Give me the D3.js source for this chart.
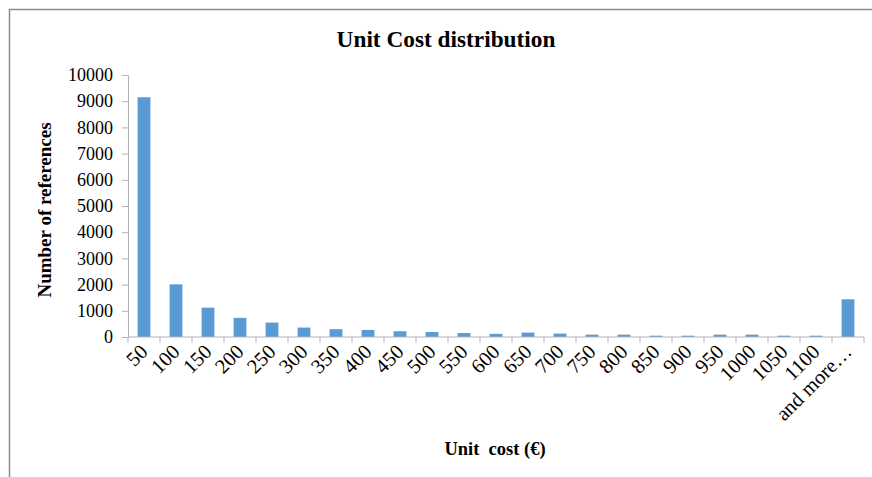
<!DOCTYPE html>
<html lang="en">
<head>
    <meta charset="UTF-8">
    <title>Unit Cost distribution</title>
    <style>
        body { margin: 0; background-color: #fff; }
        svg { display: block; }
        text { font-family: "Liberation Serif", "Times New Roman", serif; fill: #000; }
    </style>
</head>
<body>
<script src="https://cdnjs.cloudflare.com/ajax/libs/d3/7.8.5/d3.min.js"></script>
<script>
    const width = 872;
    const height = 477;

    // histogram bins (upper bound of each 50 € class)
    const categories = ["50", "100", "150", "200", "250", "300", "350", "400", "450", "500",
        "550", "600", "650", "700", "750", "800", "850", "900", "950", "1000", "1050", "1100", "and more…"];
    const counts = [9150, 2010, 1120, 730, 550, 360, 300, 270, 220, 190,
        150, 120, 170, 130, 90, 90, 50, 50, 90, 90, 50, 50, 1440];
    const yTicks = [0, 1000, 2000, 3000, 4000, 5000, 6000, 7000, 8000, 9000, 10000];

    const plot = {left: 128, right: 864, top: 75, bottom: 337};

    const svg = d3.select("body").append("svg")
        .attr("width", width)
        .attr("height", height);

    svg.append("rect").attr("width", width).attr("height", height).attr("fill", "#fff");

    // frame of the chart area (only left and top edges visible)
    svg.append("path")
        .attr("d", `M9.5,${height} V9.5 H${width}`)
        .attr("fill", "none")
        .attr("stroke", "#8a8a8a")
        .attr("stroke-width", 1.5);

    const x = d3.scaleBand()
        .domain(categories)
        .range([plot.left, plot.right])
        .paddingInner(0.6)
        .paddingOuter(0.3);

    const y = d3.scaleLinear()
        .domain([0, 10000])
        .range([plot.bottom, plot.top]);

    const axisColor = "#b3b3b3";

    // y axis
    const yAxis = svg.append("g")
        .attr("transform", `translate(${plot.left},0)`)
        .call(d3.axisLeft(y).tickValues(yTicks).tickSize(6).tickPadding(9).tickFormat(d3.format("d")));
    yAxis.select(".domain").attr("stroke", axisColor);
    yAxis.selectAll(".tick line").attr("stroke", axisColor);
    yAxis.selectAll(".tick text")
        .style("font-size", "18px");

    // bars
    svg.append("g")
        .selectAll("rect")
        .data(categories)
        .join("rect")
        .attr("x", d => x(d))
        .attr("width", x.bandwidth())
        .attr("y", (d, i) => y(counts[i]))
        .attr("height", (d, i) => y(0) - y(counts[i]))
        .attr("fill", "#5b9bd5");

    // x axis: ticks sit between categories
    const step = x.step();
    const gx = svg.append("g");
    gx.append("line")
        .attr("x1", plot.left).attr("x2", plot.right)
        .attr("y1", y(0)).attr("y2", y(0))
        .attr("stroke", axisColor);
    gx.selectAll(".tk")
        .data(d3.range(categories.length + 1))
        .join("line")
        .attr("class", "tk")
        .attr("x1", i => plot.left + i * step).attr("x2", i => plot.left + i * step)
        .attr("y1", y(0)).attr("y2", y(0) + 6)
        .attr("stroke", axisColor);

    gx.selectAll(".lbl")
        .data(categories)
        .join("text")
        .attr("class", "lbl")
        .attr("text-anchor", "end")
        .attr("transform", d => `translate(${x(d) + x.bandwidth() / 2 + 5},${y(0) + 16}) rotate(-45)`)
        .style("font-size", "20.5px")
        .text(d => d);

    // titles
    svg.append("text")
        .attr("x", 446)
        .attr("y", 47)
        .attr("text-anchor", "middle")
        .style("font-size", "23.3px")
        .style("font-weight", "bold")
        .text("Unit Cost distribution");

    svg.append("text")
        .attr("x", 495)
        .attr("y", 455)
        .attr("text-anchor", "middle")
        .style("font-size", "18.5px")
        .style("font-weight", "bold")
        .style("white-space", "pre")
        .text("Unit  cost (€)");

    svg.append("text")
        .attr("transform", `translate(51,210) rotate(-90)`)
        .attr("text-anchor", "middle")
        .style("font-size", "19px")
        .style("font-weight", "bold")
        .text("Number of references");
</script>
</body>
</html>
